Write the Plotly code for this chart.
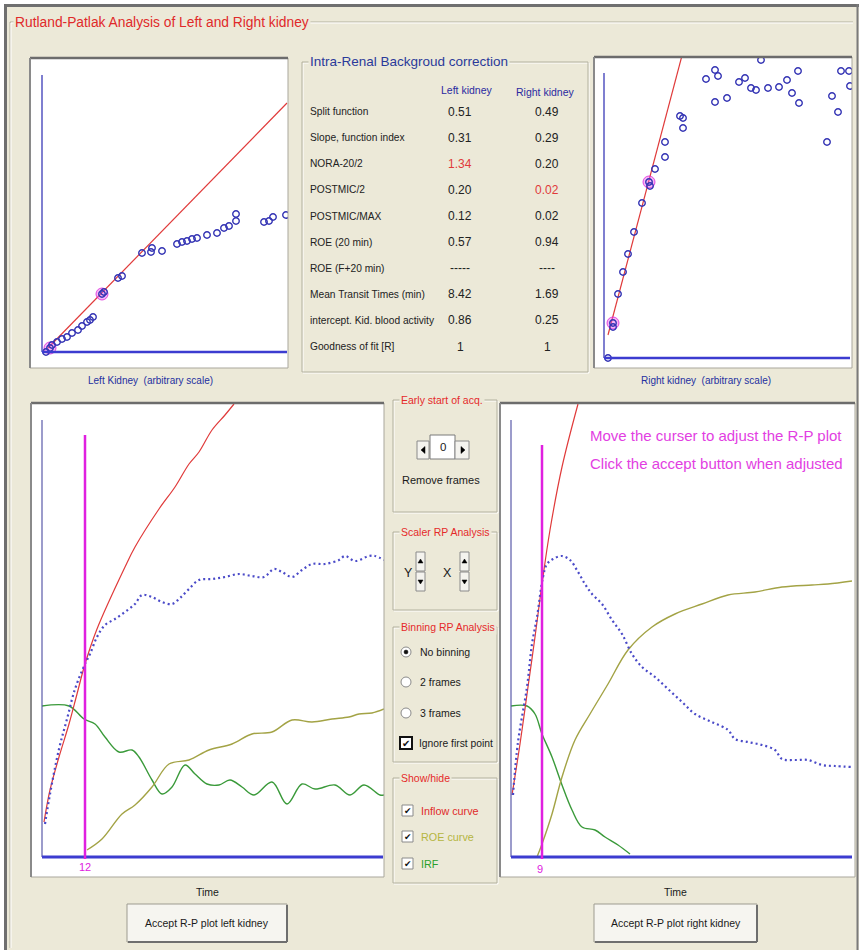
import plotly.graph_objects as go

W, H = 859, 950
BG = '#ece9d8'
SANS = 'Liberation Sans, Arial, sans-serif'
NARROW = SANS

# ---------------- data (arbitrary units) ----------------
# Top-left Rutland-Patlak plot (left kidney)
tl_x = [4, 10, 15, 20, 25, 30, 36, 40, 45, 48, 51, 62, 76, 80, 100, 109, 110, 120, 135, 140,
        145, 150, 155, 165, 175, 182, 187, 194, 194, 222, 227, 231, 244]
tl_y = [0, 7, 10, 13, 15, 19, 22, 26, 30, 32, 35, 60, 74, 76, 99, 100, 104, 101, 108, 110,
        111, 113, 114, 117, 119, 124, 126, 131, 138, 130, 131, 135, 137]
tl_hl_x = [8, 60]
tl_hl_y = [4, 58]
tl_fit_x = [6, 245]
tl_fit_y = [4, 249]

# Top-right Rutland-Patlak plot (right kidney)
tr_x = [4, 9, 14, 19, 24, 30, 38, 46, 51, 61, 61, 76, 79, 79, 102, 111, 114, 111, 123, 135,
        141, 147, 152, 157, 164, 175, 183, 188, 194, 195, 223, 228, 234, 237, 245, 246]
tr_y = [0, 31, 64, 86, 104, 126, 155, 172, 189, 201, 216, 242, 240, 230, 279, 288, 282, 256, 260, 276,
        280, 270, 268, 298, 270, 271, 278, 265, 287, 255, 216, 262, 246, 287, 287, 272]
tr_hl_x = [9, 45]
tr_hl_y = [35, 176]
tr_fit_x = [4, 80]
tr_fit_y = [23, 310]

# Bottom-left renogram (left kidney)
bl_red_x = [2, 8, 17, 27, 35, 43, 55, 83, 93, 117, 133, 147, 157, 170, 183, 192]
bl_red_y = [35, 67, 100, 133, 163, 193, 228, 290, 310, 348, 370, 393, 405, 427, 442, 453]
bl_blue_x = [3, 8, 17, 25, 33, 43, 48, 55, 63, 73, 83, 93, 100, 110, 120, 130, 138, 147, 157, 170,
             183, 197, 210, 222, 232, 240, 250, 260, 270, 283, 297, 303, 313, 327, 333, 342]
bl_blue_y = [33, 63, 108, 138, 168, 193, 203, 220, 232, 238, 245, 253, 262, 260, 255, 253, 259, 268, 277, 278,
             280, 283, 281, 280, 288, 285, 280, 287, 293, 293, 297, 301, 296, 301, 301, 297]
bl_roe_x = [45, 60, 80, 93, 110, 127, 147, 167, 190, 210, 230, 250, 270, 290, 307, 317, 330, 342]
bl_roe_y = [7, 18, 43, 52, 70, 93, 97, 107, 113, 123, 125, 137, 135, 138, 140, 143, 144, 148]
bl_irf_x = [0, 27, 42, 53, 63, 77, 90, 97, 110, 120, 130, 143, 153, 165, 177, 188, 200, 212,
            230, 245, 260, 273, 293, 308, 322, 338, 342]
bl_irf_y = [151, 151, 138, 133, 120, 105, 107, 100, 77, 63, 70, 92, 83, 73, 72, 77, 70, 62,
            75, 53, 73, 68, 72, 62, 72, 62, 62]
bl_cursor = 43
bl_cursor_label = '12'

# Bottom-right renogram (right kidney)
br_red_x = [1, 9, 17, 24, 31, 39, 51, 67]
br_red_y = [62, 113, 170, 220, 273, 327, 390, 453]
br_blue_x = [2, 7, 16, 21, 26, 32, 36, 42, 51, 59, 67, 74, 81, 91, 101, 111, 121, 131, 144, 157,
             171, 184, 201, 217, 224, 237, 251, 264, 271, 284, 297, 311, 324, 341]
br_blue_y = [62, 115, 170, 213, 240, 280, 293, 298, 301, 297, 285, 273, 263, 253, 237, 223, 203, 190, 180, 168,
             155, 143, 135, 127, 118, 115, 112, 107, 98, 97, 97, 92, 91, 90]
br_roe_x = [26, 31, 41, 51, 64, 79, 97, 117, 141, 164, 191, 217, 244, 271, 301, 317, 341]
br_roe_y = [0, 13, 43, 80, 117, 143, 173, 207, 230, 243, 253, 262, 265, 270, 272, 273, 276]
br_irf_x = [0, 16, 24, 31, 41, 51, 61, 71, 84, 94, 107, 119]
br_irf_y = [151, 151, 143, 123, 100, 72, 47, 30, 27, 20, 12, 3]
br_cursor = 31
br_cursor_label = '9'

# Result table
row_labels = ["Split function", "Slope, function index", "NORA-20/2", "POSTMIC/2", "POSTMIC/MAX",
              "ROE (20 min)", "ROE (F+20 min)", "Mean Transit Times (min)",
              "intercept. Kid. blood activity", "Goodness of fit [R]"]
left_vals = ["0.51", "0.31", "1.34", "0.20", "0.12", "0.57", "-----", "8.42", "0.86", "1"]
right_vals = ["0.49", "0.29", "0.20", "0.02", "0.02", "0.94", "----", "1.69", "0.25", "1"]
left_red = [2]
right_red = [3]

# ---------------- colours ----------------
RED = '#e03a3a'
BLUE_PT = '#3434b4'
BLUE_AX = '#3c3cd0'
OLIVE = '#a3a345'
GREEN = '#3a9a3a'
MAG = '#e020e0'
GRP = '#b3b09e'

# ---------------- helpers ----------------
shapes = []
annos = []


def X(p):
    return p / W


def Y(p):
    return 1 - p / H


def rect(x0, y0, x1, y1, line='#888888', width=1, fill='rgba(0,0,0,0)'):
    shapes.append(dict(type='rect', xref='paper', yref='paper', x0=X(x0), x1=X(x1),
                       y0=Y(y1), y1=Y(y0), line=dict(color=line, width=width), fillcolor=fill))


def seg(x0, y0, x1, y1, color, width=1):
    shapes.append(dict(type='line', xref='paper', yref='paper', x0=X(x0), x1=X(x1),
                       y0=Y(y0), y1=Y(y1), line=dict(color=color, width=width)))


def poly(pts, fill='#000000'):
    d = 'M ' + ' L '.join(f'{X(a):.5f},{Y(b):.5f}' for a, b in pts) + ' Z'
    shapes.append(dict(type='path', xref='paper', yref='paper', path=d,
                       fillcolor=fill, line=dict(color=fill, width=0.5)))


def text(x, y, s, color='#1a1a1a', size=10.5, family=NARROW, anchor='left', bg=None):
    a = dict(x=X(x), y=Y(y), xref='paper', yref='paper', text=s, showarrow=False,
             xanchor=anchor, yanchor='middle', font=dict(color=color, size=size, family=family))
    if bg:
        a['bgcolor'] = bg
        a['borderpad'] = 1
    annos.append(a)


def group(x0, y0, x1, y1, title, tcolor, size=10.5, family=NARROW):
    rect(x0 + 1, y0 + 1, x1 + 1, y1 + 1, line='#ffffff', width=1)
    rect(x0, y0, x1, y1, line=GRP, width=1)
    text(x0 + 6, y0, title, color=tcolor, size=size, family=family, bg=BG)


def panel(x0, y0, x1, y1):
    rect(x0, y0, x1, y1, line='#a9a79c', width=1)
    seg(x0, y0, x1, y0, '#6c6c6c', 2.5)
    seg(x0, y0, x0, y1, '#8a8a8a', 2)


def button(x0, y0, x1, y1, label):
    rect(x0, y0, x1, y1, line='#9d9b90', width=1, fill='#f6f5f0')
    seg(x0 + 1, y1, x1, y1, '#6e6e6e', 2)
    seg(x1, y0 + 1, x1, y1, '#6e6e6e', 2)
    text((x0 + x1) / 2, (y0 + y1) / 2, label, size=10.5, anchor='center')


# ---------------- window chrome ----------------
rect(0, 0, W, 4, line='#ffffff', width=0, fill='#ffffff')
rect(0, 0, 4, H, line='#ffffff', width=0, fill='#ffffff')
seg(4, 5.5, W, 5.5, '#6f6f6f', 3)
seg(5.5, 4, 5.5, H, '#6f6f6f', 3)
seg(857.5, 4, 857.5, H, '#7a7a7a', 2)

# outer group box
seg(10, 22, 853, 22, GRP, 1)
seg(10, 22, 10, 948, GRP, 1)
seg(11, 23, 853, 23, '#ffffff', 1)
seg(11, 23, 11, 948, '#ffffff', 1)
text(13, 22, 'Rutland-Patlak Analysis of Left and Right kidney', color='#e02a2a', size=13.8,
     family=SANS, bg=BG)

# ---------------- plot panels ----------------
P_TL = (30, 58, 288, 368)
P_TR = (594, 57, 852, 368)
P_BL = (31, 403, 384, 877)
P_BR = (500, 403, 855, 877)

fig = go.Figure()


def dom(p):
    return [X(p[0]), X(p[2])], [Y(p[3]), Y(p[1])]


axes = {}
for i, (p, xr, yr) in enumerate([(P_TL, [-12, 246], [-16, 294]),
                                  (P_TR, [-10, 248], [-10, 301]),
                                  (P_BL, [-11, 342], [-20, 454]),
                                  (P_BR, [-11, 344], [-20, 454])], start=1):
    dx, dy = dom(p)
    sfx = '' if i == 1 else str(i)
    axes['xaxis' + sfx] = dict(domain=dx, range=xr, visible=False, fixedrange=True,
                               anchor='y' + sfx)
    axes['yaxis' + sfx] = dict(domain=dy, range=yr, visible=False, fixedrange=True,
                               anchor='x' + sfx)


def dline(ax, x0, y0, x1, y1, color, width):
    sfx = '' if ax == 1 else str(ax)
    shapes.append(dict(type='line', xref='x' + sfx, yref='y' + sfx, x0=x0, x1=x1, y0=y0, y1=y1,
                       line=dict(color=color, width=width), layer='above'))


def ax_names(ax):
    sfx = '' if ax == 1 else str(ax)
    return 'x' + sfx, 'y' + sfx


# axis lines
dline(1, 0, 0, 0, 277, '#5555c0', 1.5)
dline(1, 0, 0, 245, 0, BLUE_AX, 2.5)
dline(2, 0, 0, 0, 285, '#5555c0', 1.5)
dline(2, 0, 0, 246, 0, BLUE_AX, 2.5)
dline(3, 0, 0, 0, 437, '#5a5aa8', 1.2)
dline(3, 0, 0, 341, 0, BLUE_AX, 3)
dline(4, 0, 0, 0, 437, '#5a5aa8', 1.2)
dline(4, 0, 0, 341, 0, BLUE_AX, 3)

# Patlak plots
for ax, xs, ys, hx, hy, fx, fy in [(1, tl_x, tl_y, tl_hl_x, tl_hl_y, tl_fit_x, tl_fit_y),
                                   (2, tr_x, tr_y, tr_hl_x, tr_hl_y, tr_fit_x, tr_fit_y)]:
    xa, ya = ax_names(ax)
    fig.add_trace(go.Scatter(x=fx, y=fy, mode='lines', line=dict(color=RED, width=1.2),
                             xaxis=xa, yaxis=ya, hoverinfo='skip'))
    fig.add_trace(go.Scatter(x=hx, y=hy, mode='markers',
                             marker=dict(symbol='circle', size=12, color='rgba(235,90,235,0.45)',
                                         line=dict(color='rgba(220,40,220,0.8)', width=1)),
                             xaxis=xa, yaxis=ya, hoverinfo='skip'))
    fig.add_trace(go.Scatter(x=xs + hx, y=ys + hy, mode='markers',
                             marker=dict(symbol='circle-open', size=6.5, color=BLUE_PT,
                                         line=dict(width=1.4)),
                             xaxis=xa, yaxis=ya, hoverinfo='skip'))

# renograms
for ax, rx, ry, bx, by, ox, oy, gx, gy, cur, ctop in [
        (3, bl_red_x, bl_red_y, bl_blue_x, bl_blue_y, bl_roe_x, bl_roe_y, bl_irf_x, bl_irf_y, bl_cursor, 422),
        (4, br_red_x, br_red_y, br_blue_x, br_blue_y, br_roe_x, br_roe_y, br_irf_x, br_irf_y, br_cursor, 412)]:
    xa, ya = ax_names(ax)
    fig.add_trace(go.Scatter(x=gx, y=gy, mode='lines', line=dict(color=GREEN, width=1.4, shape='spline'),
                             xaxis=xa, yaxis=ya, hoverinfo='skip'))
    fig.add_trace(go.Scatter(x=ox, y=oy, mode='lines', line=dict(color=OLIVE, width=1.4, shape='spline'),
                             xaxis=xa, yaxis=ya, hoverinfo='skip'))
    fig.add_trace(go.Scatter(x=rx, y=ry, mode='lines', line=dict(color=RED, width=1.2, shape='spline'),
                             xaxis=xa, yaxis=ya, hoverinfo='skip'))
    fig.add_trace(go.Scatter(x=bx, y=by, mode='lines',
                             line=dict(color='#4a4ac8', width=2.2, dash='2px,3px', shape='spline'),
                             xaxis=xa, yaxis=ya, hoverinfo='skip'))
    dline(ax, cur, -2, cur, ctop, MAG, 2.5)

text(85, 867, bl_cursor_label, color=MAG, size=11, anchor='center')
text(540, 869, br_cursor_label, color=MAG, size=11, anchor='center')

text(588, 436, 'Move the curser to adjust the R-P plot', color='#e23ee2', size=15, family=SANS)
text(588, 463, 'Click the accept button when adjusted', color='#e23ee2', size=15, family=SANS)

for p in (P_TL, P_TR, P_BL, P_BR):
    panel(*p)

text(150, 381, 'Left Kidney  (arbitrary scale)', color='#2430a0', size=10, anchor='center')
text(706, 381, 'Right kidney  (arbitrary scale)', color='#2430a0', size=10, anchor='center')
text(207, 892, 'Time', size=10.5, anchor='center')
text(675, 892, 'Time', size=10.5, anchor='center')

button(127, 904, 287, 942, 'Accept R-P plot left kidney')
button(594, 904, 757, 942, 'Accept R-P plot right kidney')

# ---------------- result table ----------------
group(302, 62, 588, 372, 'Intra-Renal Backgroud correction', '#2a3a9a', size=13.5, family=SANS)
text(467, 90, 'Left kidney', color='#2a2aa0', size=10.5, anchor='center')
text(545, 92, 'Right kidney', color='#2a2aa0', size=10.5, anchor='center')
for i, lab in enumerate(row_labels):
    yy = 111.7 + i * 26.1
    text(308, yy, lab, color='#222222', size=10.2)
    text(460, yy, left_vals[i], color=RED if i in left_red else '#222222', size=12, anchor='center')
    text(547, yy, right_vals[i], color=RED if i in right_red else '#222222', size=12, anchor='center')

# ---------------- middle controls ----------------
WRED = '#e52a2a'
group(393, 400, 497, 512, 'Early start of acq.', WRED)
rect(417, 441, 429, 459, line='#8a8a8a', width=1, fill='#f4f3ee')
rect(430, 435, 455, 459, line='#7a7a7a', width=1, fill='#ffffff')
rect(455, 441, 469, 459, line='#8a8a8a', width=1, fill='#f4f3ee')
poly([(421, 450), (425, 446.5), (425, 453.5)])
poly([(465, 450), (461, 446.5), (461, 453.5)])
text(442.5, 447, '0', size=11.5, anchor='center')
text(441, 480, 'Remove frames', size=11, anchor='center')

group(393, 532, 497, 610, 'Scaler RP Analysis', WRED)
for lx, sx in [(408, 416), (448, 460)]:
    text(lx, 573, 'Y' if lx == 408 else 'X', size=12.5, anchor='center')
    rect(sx, 552, sx + 9, 571, line='#8a8a8a', width=1, fill='#f4f3ee')
    rect(sx, 572, sx + 9, 591, line='#8a8a8a', width=1, fill='#f4f3ee')
    poly([(sx + 4.5, 559), (sx + 2, 563), (sx + 7, 563)])
    poly([(sx + 4.5, 584), (sx + 2, 580), (sx + 7, 580)])

group(393, 627, 497, 762, 'Binning RP Analysis', WRED)
for yy, lab, sel in [(652, 'No binning', True), (682, '2 frames', False), (713, '3 frames', False)]:
    shapes.append(dict(type='circle', xref='paper', yref='paper', x0=X(401), x1=X(411),
                       y0=Y(yy + 5), y1=Y(yy - 5), line=dict(color='#8a8a8a', width=1),
                       fillcolor='#ffffff'))
    if sel:
        shapes.append(dict(type='circle', xref='paper', yref='paper', x0=X(404), x1=X(408),
                           y0=Y(yy + 2), y1=Y(yy - 2), line=dict(color='#111111', width=0.5),
                           fillcolor='#111111'))
    text(418, yy, lab, size=10.5)
rect(400, 737, 412, 749, line='#111111', width=2, fill='#ffffff')
text(406, 743, '✔', size=10, family='DejaVu Sans', anchor='center', color='#111111')
text(417, 743, 'Ignore first point', size=10.3)

group(393, 778, 497, 883, 'Show/hide', WRED)
for yy, lab, col in [(811, 'Inflow curve', '#e02a2a'), (837, 'ROE curve', '#b5b540'),
                     (864, 'IRF', '#2aa02a')]:
    rect(402, yy - 6, 413, yy + 5, line='#8a8a8a', width=1, fill='#ffffff')
    text(407.5, yy, '✔', size=9, family='DejaVu Sans', anchor='center', color='#111111')
    text(419, yy, lab, color=col, size=10.8)

fig.update_layout(width=W, height=H, margin=dict(l=0, r=0, t=0, b=0), autosize=False,
                  paper_bgcolor=BG, plot_bgcolor='#ffffff', showlegend=False,
                  shapes=shapes, annotations=annos, **axes)
fig.write_html('out.html', config={'displayModeBar': False},
               post_script="document.body.style.margin='0px';document.body.style.overflow='hidden';")
